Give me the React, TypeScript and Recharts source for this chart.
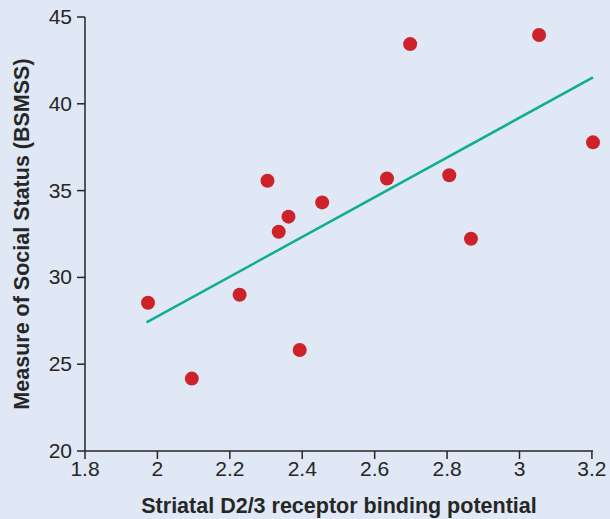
import { ScatterChart, Scatter, XAxis, YAxis, ReferenceLine } from "recharts";

// binding potential vs BSMSS, one entry per subject
const bindingPotential = [
  1.974, 2.095, 2.227, 2.304, 2.335, 2.362, 2.393, 2.455, 2.634, 2.698, 2.806, 2.866, 3.054, 3.203,
];
const socialStatus = [
  28.54, 24.17, 29.0, 35.57, 32.63, 33.5, 25.82, 34.32, 35.7, 43.44, 35.88, 32.23, 43.96, 37.78,
];

// fitted line end points
const fitX = [1.97, 3.203];
const fitY = [27.41, 41.52];

const xTicks = [1.8, 2, 2.2, 2.4, 2.6, 2.8, 3, 3.2];
const yTicks = [20, 25, 30, 35, 40, 45];

const points = bindingPotential.map((x, i) => ({ x, y: socialStatus[i] }));

const BG = "#dfe8f4";
const INK = "#262626";
const FONT = '"Liberation Sans", Arial, Helvetica, sans-serif';

const axisLine = { stroke: INK, strokeWidth: 1.5 };

function Dot(props: { cx?: number; cy?: number }) {
  return <circle cx={props.cx} cy={props.cy} r={7} fill="#cd2229" />;
}

function XTick(props: any) {
  const { x, y, payload } = props;
  return (
    <text x={x} y={y + 15} textAnchor="middle" fontSize={21} fill={INK} fontFamily={FONT}>
      {payload.value}
    </text>
  );
}

function YTick(props: any) {
  const { x, y, payload } = props;
  return (
    <text x={x - 3} y={y + 7} textAnchor="end" fontSize={21} fill={INK} fontFamily={FONT}>
      {payload.value}
    </text>
  );
}

export default function App() {
  return (
    <div style={{ position: "fixed", left: 0, top: 0, width: 610, height: 519, background: BG }}>
      <ScatterChart width={610} height={519} margin={{ top: 17, right: 17, bottom: 0, left: 0 }}>
        <XAxis
          type="number"
          dataKey="x"
          domain={[1.8, 3.2]}
          ticks={xTicks}
          tick={<XTick />}
          tickSize={8}
          axisLine={axisLine}
          tickLine={axisLine}
          height={68}
          label={{
            value: "Striatal D2/3 receptor binding potential",
            position: "insideBottom",
            offset: 6,
            style: { fontSize: 21.5, fontWeight: 700, fill: INK, fontFamily: FONT },
          }}
        />
        <YAxis
          type="number"
          dataKey="y"
          domain={[20, 45]}
          ticks={yTicks}
          tick={<YTick />}
          tickSize={8}
          axisLine={axisLine}
          tickLine={axisLine}
          width={85}
          label={{
            value: "Measure of Social Status (BSMSS)",
            angle: -90,
            position: "insideLeft",
            offset: 21,
            style: { fontSize: 21.5, fontWeight: 700, fill: INK, fontFamily: FONT, textAnchor: "middle" },
          }}
        />
        <ReferenceLine
          segment={[
            { x: fitX[0], y: fitY[0] },
            { x: fitX[1], y: fitY[1] },
          ]}
          stroke="#0fae8f"
          strokeWidth={2.5}
        />
        <Scatter data={points} shape={<Dot />} isAnimationActive={false} />
      </ScatterChart>
    </div>
  );
}
